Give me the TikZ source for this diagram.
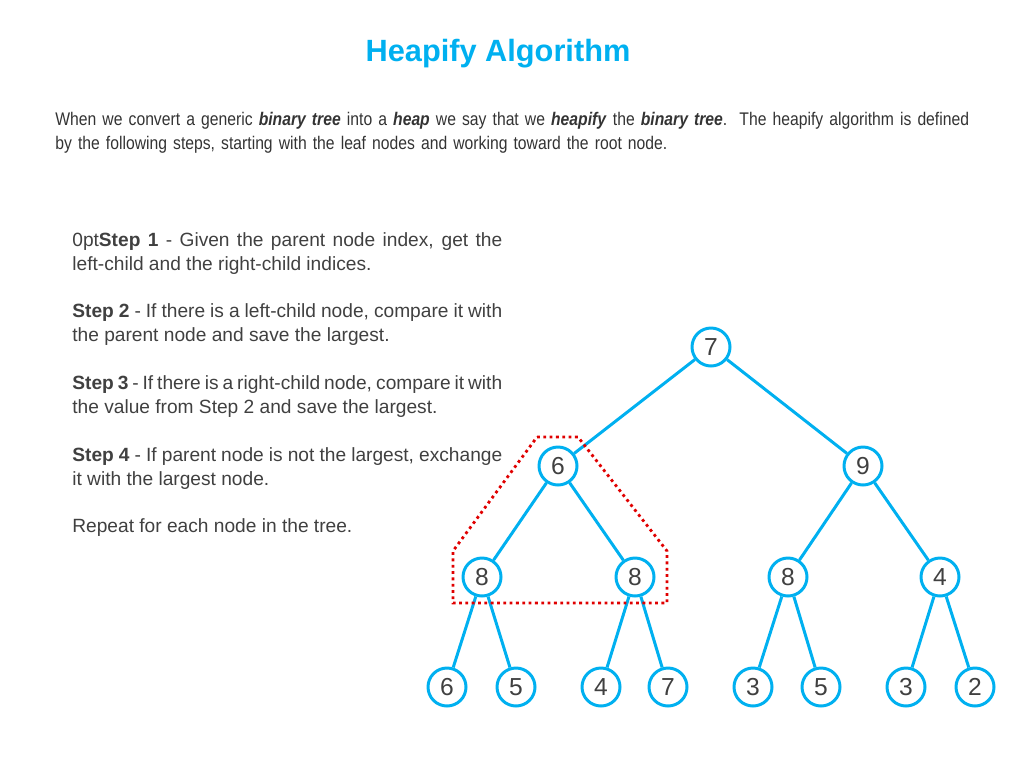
\documentclass[tikz,border=0pt]{standalone}
\usepackage{fontspec}
\setmainfont{Liberation Sans}
\newfontfamily\narrowfont[FakeStretch=0.86]{Liberation Sans}
\definecolor{heapblue}{HTML}{00B0F0}
\definecolor{markred}{HTML}{E00000}
\begin{document}
\begin{tikzpicture}[x=0.02cm,y=-0.02cm,
  key/.style={circle,draw=heapblue,line width=1.7pt,fill=white,minimum size=0.76cm,inner sep=0pt,font=\fontsize{14}{14}\selectfont,text=black!75},
  edge/.style={draw=heapblue,line width=1.7pt}]
\useasboundingbox (0,0) rectangle (1024,768);
\node (title) at (498,54) [text=heapblue,font=\bfseries\fontsize{17.5}{20}\selectfont] {Heapify Algorithm};
\node (intro) at (55,133) [anchor=west,align=left,inner sep=0pt,text width=19.4cm,font=\narrowfont\fontsize{10.4}{13.6}\selectfont,text=black!80] {When we convert a generic \textbf{\textit{binary tree}} into a \textbf{\textit{heap}} we say that we \textbf{\textit{heapify}} the \textbf{\textit{binary tree}}.\ \ The heapify algorithm is defined\\ by the following steps, starting with the leaf nodes and working toward the root node.};
\node (steps) at (72,232) [anchor=north west,inner sep=0pt,text width=8.6cm,align=justify,font=\fontsize{10.9}{13.6}\selectfont\hyphenpenalty=10000\exhyphenpenalty=10000,text=black!75] {\textbf{Step 1} - Given the parent node index, get the left-child and the right-child indices.\\[13.6pt]
\textbf{Step 2} - If there is a left-child node, compare it with the parent node and save the largest.\\[13.6pt]
\textbf{Step 3} - If there is a right-child node, compare it with the value from Step 2 and save the largest.\\[13.6pt]
\textbf{Step 4} - If parent node is not the largest, exchange it with the largest node.\\[13.6pt]
Repeat for each node in the tree.};
% the tree
\node (r) at (711,347) [key] {7};
\node (a) at (558,466) [key] {6};
\node (b) at (863,466) [key] {9};
\node (aa) at (482,577) [key] {8};
\node (ab) at (635,577) [key] {8};
\node (ba) at (788,577) [key] {8};
\node (bb) at (940,577) [key] {4};
\node (aaa) at (447,687) [key] {6};
\node (aab) at (516,687) [key] {5};
\node (aba) at (601,687) [key] {4};
\node (abb) at (668,687) [key] {7};
\node (baa) at (753,687) [key] {3};
\node (bab) at (821,687) [key] {5};
\node (bba) at (906,687) [key] {3};
\node (bbb) at (975,687) [key] {2};
\draw[edge] (r) -- (a);
\draw[edge] (r) -- (b);
\draw[edge] (a) -- (aa);
\draw[edge] (a) -- (ab);
\draw[edge] (b) -- (ba);
\draw[edge] (b) -- (bb);
\draw[edge] (aa) -- (aaa);
\draw[edge] (aa) -- (aab);
\draw[edge] (ab) -- (aba);
\draw[edge] (ab) -- (abb);
\draw[edge] (ba) -- (baa);
\draw[edge] (ba) -- (bab);
\draw[edge] (bb) -- (bba);
\draw[edge] (bb) -- (bbb);
% marked subtree
\draw[markred,line width=1.6pt,dotted] (537,437) -- (578,437) -- (667,551) -- (667,603) -- (453,603) -- (453,551) -- cycle;
\end{tikzpicture}
\end{document}
